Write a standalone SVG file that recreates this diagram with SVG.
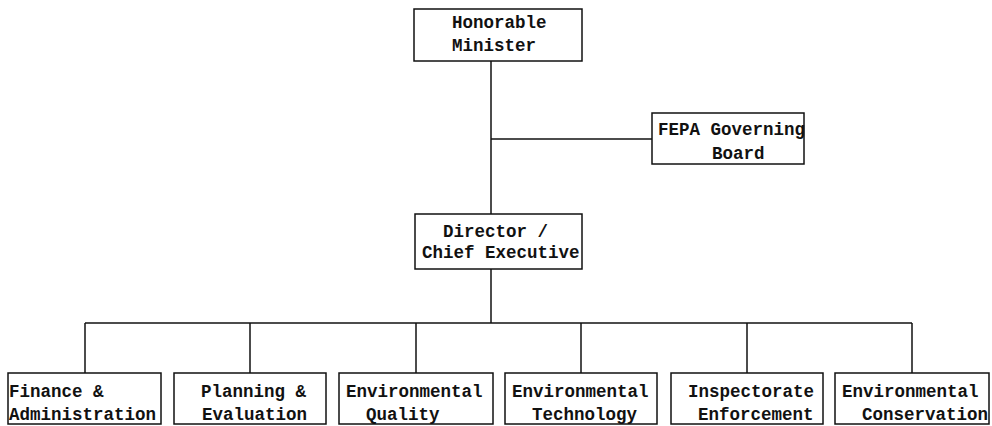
<svg xmlns="http://www.w3.org/2000/svg" width="992" height="426" viewBox="0 0 992 426">
<style>
rect.box{fill:#fff;stroke:#111;stroke-width:1.5}
.conn line{stroke:#111;stroke-width:1.5}
text{font-family:"Liberation Mono","DejaVu Sans Mono",monospace;font-weight:bold;font-size:17.5px;fill:#111}
</style>
<rect width="992" height="426" fill="#fff"/>
<g id="connectors" class="conn">
<line x1="491" y1="61" x2="491" y2="214"/>
<line x1="491" y1="139" x2="652" y2="139"/>
<line x1="491" y1="269" x2="491" y2="323"/>
<line x1="85" y1="323" x2="912" y2="323"/>
<line x1="85" y1="323" x2="85" y2="373"/>
<line x1="250" y1="323" x2="250" y2="373"/>
<line x1="416" y1="323" x2="416" y2="373"/>
<line x1="581" y1="323" x2="581" y2="373"/>
<line x1="747" y1="323" x2="747" y2="373"/>
<line x1="912" y1="323" x2="912" y2="373"/>
</g>
<g id="minister"><rect class="box" x="414" y="9" width="168" height="52"/><text x="452" y="28">Honorable</text><text x="452" y="51">Minister</text></g>
<g id="board"><rect class="box" x="652" y="113" width="152" height="51"/><text x="658" y="135">FEPA Governing</text><text x="712" y="159">Board</text></g>
<g id="director"><rect class="box" x="415" y="214" width="167" height="55"/><text x="443" y="237">Director /</text><text x="422" y="258">Chief Executive</text></g>
<g id="finance"><rect class="box" x="8" y="373" width="153" height="51"/><text x="9" y="397">Finance &amp;</text><text x="9" y="420">Administration</text></g>
<g id="planning"><rect class="box" x="174" y="373" width="152" height="51"/><text x="201" y="397">Planning &amp;</text><text x="202" y="420">Evaluation</text></g>
<g id="quality"><rect class="box" x="339" y="373" width="154" height="51"/><text x="346" y="397">Environmental</text><text x="366" y="420">Quality</text></g>
<g id="technology"><rect class="box" x="505" y="373" width="152" height="51"/><text x="512" y="397">Environmental</text><text x="532" y="420">Technology</text></g>
<g id="inspectorate"><rect class="box" x="671" y="373" width="152" height="51"/><text x="688" y="397">Inspectorate</text><text x="698" y="420">Enforcement</text></g>
<g id="conservation"><rect class="box" x="835" y="373" width="154" height="51"/><text x="842" y="397">Environmental</text><text x="862" y="420">Conservation</text></g>
</svg>
